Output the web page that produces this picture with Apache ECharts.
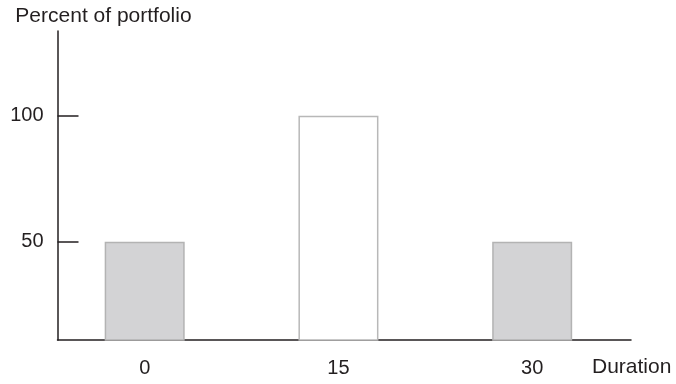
<!DOCTYPE html>
<html>
<head>
<meta charset="utf-8">
<script src="https://cdn.jsdelivr.net/npm/echarts@6/dist/echarts.min.js"></script>
<style>html,body{margin:0;padding:0;background:#fff;}#c{width:676px;height:384px;}</style>
</head>
<body>
<div id="c"></div>
<script>
const durations = [0, 15, 30];
const percents = [50, 100, 50];
const yTickValues = [50, 100];
const xTickValues = [0, 15, 30];
const yAxisName = 'Percent of portfolio';
const xAxisName = 'Duration';

const ink = '#231f20';
const font = 'Liberation Sans, Arial, Helvetica, sans-serif';
const grayFill = { color: '#d3d3d5', borderColor: '#b3b3b3', borderWidth: 1.5 };
const whiteFill = { color: '#ffffff', borderColor: '#b8b8b8', borderWidth: 1.5 };

const chart = echarts.init(document.getElementById('c'), null, { renderer: 'canvas' });
chart.setOption({
  animation: false,
  backgroundColor: '#fff',
  grid: { left: 57.5, right: 45, top: 31, bottom: 44, containLabel: false, outerBoundsMode: 'none' },
  xAxis: {
    type: 'value',
    min: -6.75,
    max: 37.65,
    name: xAxisName,
    nameLocation: 'end',
    nameGap: -39,
    nameTextStyle: { color: ink, fontSize: 21, fontFamily: font, align: 'left', verticalAlign: 'top', lineHeight: 54 },
    splitLine: { show: false },
    axisLine: { show: true, onZero: false, lineStyle: { color: ink, width: 1.5 } },
    axisTick: { show: false },
    axisLabel: { customValues: xTickValues, color: ink, fontSize: 20, fontFamily: font, margin: 18 }
  },
  yAxis: {
    type: 'value',
    min: 11,
    max: 133.6,
    name: yAxisName,
    nameLocation: 'end',
    nameGap: 4,
    nameTextStyle: { color: ink, fontSize: 21, fontFamily: font, align: 'center', padding: [0, 0, 0, 92] },
    splitLine: { show: false },
    axisLine: { show: true, onZero: false, lineStyle: { color: ink, width: 1.5 } },
    axisTick: { show: true, inside: true, length: 21, customValues: yTickValues, lineStyle: { color: ink, width: 1.5 } },
    axisLabel: { customValues: yTickValues, color: ink, fontSize: 20, fontFamily: font, margin: 14 }
  },
  series: [{
    type: 'bar',
    barWidth: 80,
    data: durations.map((d, i) => ({ value: [d, percents[i]], itemStyle: i === 1 ? whiteFill : grayFill }))
  }]
});
</script>
</body>
</html>
